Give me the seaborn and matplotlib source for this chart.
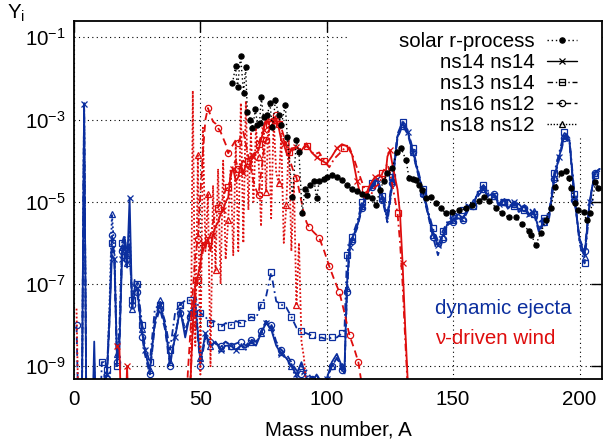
import numpy as np
import pandas as pd
import matplotlib
matplotlib.use("Agg")
import matplotlib.pyplot as plt
from matplotlib.lines import Line2D
from matplotlib.patches import Rectangle
from matplotlib.ticker import NullLocator
import seaborn as sns

sns.set_theme(style="white")
plt.rcParams["font.family"] = ["Liberation Sans", "DejaVu Sans"]
plt.rcParams["mathtext.fontset"] = "custom"
plt.rcParams["mathtext.rm"] = "Liberation Sans"
plt.rcParams["mathtext.it"] = "Liberation Sans:italic"
plt.rcParams["axes.unicode_minus"] = False

# ---------------- data (log10 Y_i) ----------------
# dynamic ejecta, common mass grid
A_dyn = list(range(1, 28)) + list(range(28, 106, 2)) + [106, 107, 108, 109, 110] + list(range(112, 210, 2))

dyn_ns14_ns14 = [
    -11, -11, -11, -2.62, -11, -11, -11, -8.4, -11, -11, -11, -9.5, -9.2, -7.9, -6.3, -6.4, -8.8, -8.4, -6.4, -6.0, -6.6, -4.9, -7.6, -7.2, -7.1, -7.7, -8.2,
    -8.6, -9.1, -7.9, -7.5, -8.0, -8.9, -8.3, -7.6, -8.3, -7.7, -7.5, -8.9, -8.2, -8.5, -8.4, -8.6, -8.5, -8.5, -8.6, -8.5,
    -8.55, -8.4, -8.5, -8.2, -7.95, -8.1, -8.5, -8.7, -8.8, -9.0, -9.2, -8.9, -9.3, -9.4, -9.2, -9.5, -9.3, -8.9, -8.7,
    -9.0, -9.1, -7.0, -6.1, -5.9,
    -5.6, -5.1, -4.8, -4.6, -4.45, -4.9, -5.4, -4.5, -3.4, -3.1, -3.3, -3.75, -4.25, -4.75, -5.25, -5.75, -6.05, -5.8, -5.5,
    -5.45, -5.3, -5.4, -5.1, -5.05, -4.75, -4.7, -4.85, -4.8, -5.05, -4.95, -5.15, -5.0, -5.2, -5.1, -5.3, -5.25, -5.7, -5.45,
    -5.35, -4.4, -3.9, -3.4, -3.5, -4.9, -5.9, -6.3, -5.0, -4.3, -4.2]
dyn_ns13_ns14 = [
    -11, -11, -11, -2.6, -11, -11, -11, -11, -11, -11, -8.9, -8.9, -9.1, -7.8, -6.0, -6.5, -9.0, -8.0, -6.0, -5.8, -6.3, -6.0, -7.4, -6.9, -7.0, -7.5, -8.0,
    -8.5, -8.9, -7.6, -7.5, -7.9, -8.6, -7.7, -7.5, -7.4, -7.4, -7.3, -7.7, -7.8, -7.95, -7.9, -8.05, -7.95, -8.0, -7.9, -7.95,
    -7.9, -7.8, -7.84, -7.5, -7.3, -6.72, -7.42, -7.5, -7.57, -7.8, -8.06, -8.15, -8.2, -8.25, -8.32, -8.3, -8.35, -8.3, -8.3,
    -8.2, -8.13, -6.3, -6.0, -5.85,
    -5.5, -5.0, -4.75, -4.55, -4.4, -4.85, -5.3, -4.4, -3.35, -3.05, -3.25, -3.7, -4.2, -4.7, -5.2, -5.65, -5.95, -5.7, -5.45,
    -5.35, -5.3, -5.2, -5.05, -5.1, -4.7, -4.6, -4.75, -4.85, -4.9, -5.0, -4.95, -5.1, -5.05, -5.2, -5.15, -5.3, -5.5, -5.4,
    -5.25, -4.3, -3.8, -3.3, -3.45, -4.8, -6.0, -6.5, -5.1, -4.35, -4.25]
dyn_ns16_ns12 = [
    -8.0, -11, -11, -2.65, -11, -11, -11, -11, -11, -11, -11, -9.2, -9.3, -8.0, -5.8, -6.3, -8.9, -8.6, -6.2, -5.9, -6.4, -6.1, -7.5, -7.1, -7.2, -7.8, -8.3,
    -8.7, -9.2, -8.0, -7.6, -8.1, -9.0, -8.2, -7.7, -8.1, -7.8, -7.6, -9.0, -8.3, -8.4, -8.45, -8.5, -8.4, -8.5, -8.45, -8.4,
    -8.5, -8.35, -8.4, -8.15, -7.9, -8.0, -8.4, -8.6, -8.7, -8.9, -9.1, -9.2, -9.1, -9.3, -9.2, -9.4, -9.35, -9.0, -8.8,
    -9.1, -9.2, -7.2, -6.2, -5.95,
    -5.65, -5.15, -4.85, -4.65, -4.5, -4.95, -5.5, -4.55, -3.45, -3.15, -3.35, -3.8, -4.3, -4.8, -5.3, -5.85, -6.3, -5.9, -5.55,
    -5.5, -5.4, -5.45, -5.2, -5.1, -4.85, -4.7, -4.9, -4.8, -5.1, -5.0, -5.2, -5.05, -5.25, -5.15, -5.35, -5.3, -5.75, -5.5,
    -5.4, -4.45, -3.95, -3.45, -3.55, -4.95, -5.9, -6.2, -5.0, -4.3, -4.2]
dyn_ns18_ns12 = [
    -11, -11, -11, -2.62, -11, -11, -11, -8.9, -11, -11, -11, -11, -9.4, -7.6, -5.3, -6.2, -8.7, -8.3, -6.1, -5.9, -6.5, -5.5, -7.6, -7.2, -7.0, -7.6, -8.1,
    -8.6, -9.1, -7.9, -7.4, -8.0, -8.9, -8.3, -7.5, -8.2, -7.7, -7.4, -8.8, -8.3, -8.5, -8.45, -8.55, -8.4, -8.5, -8.6, -8.5,
    -8.6, -8.4, -8.45, -8.2, -7.9, -8.05, -8.45, -8.65, -8.8, -9.0, -9.3, -9.0, -9.2, -9.4, -9.3, -9.5, -9.3, -9.0, -8.8,
    -9.0, -9.2, -7.1, -6.15, -5.9,
    -5.6, -5.1, -4.82, -4.6, -4.48, -4.92, -5.45, -4.5, -3.42, -3.1, -3.3, -3.78, -4.28, -4.78, -5.28, -5.8, -6.1, -5.85, -5.52,
    -5.45, -5.35, -5.4, -5.15, -5.0, -4.8, -4.65, -4.8, -4.85, -5.0, -4.98, -5.1, -5.05, -5.18, -5.12, -5.3, -5.22, -5.65, -5.5,
    -5.3, -4.4, -3.9, -3.38, -3.5, -4.9, -5.95, -6.35, -5.05, -4.3, -4.2]

# neutrino-driven wind
A_wind_ns14_ns14 = [17, 18, 19, 20, 21, 22, 44, 46, 47, 48, 49] + list(range(50, 87)) + list(range(88, 111, 2)) + \
    [112, 113, 115, 117, 119, 121, 123, 124, 125, 126, 128, 129, 130, 131, 132, 133]
wind_ns14_ns14 = [
    -8.5, -8.6, -11, -11, -9.0, -11, -11, -9.5, -8.0, -7.0, -6.8,
    -6.5, -6.0, -6.1, -5.9, -6.2, -5.8, -5.6, -5.5, -5.3, -5.2, -5.0, -4.9, -4.3, -4.2, -4.5, -4.4, -4.1, -4.3, -4.1,
    -4.2, -4.0, -3.9, -3.8, -3.75, -3.5, -3.25, -3.0, -3.1, -3.2, -3.05, -3.0, -3.2, -3.5, -3.6, -3.8, -3.9, -3.7,
    -3.68, -3.75, -3.58, -3.8, -3.92, -4.0, -4.07, -3.9, -3.7, -3.6, -3.65, -3.85,
    -4.5, -4.75, -4.9, -4.6, -4.4, -4.35, -4.5, -3.9, -3.75, -4.1, -4.7, -5.3, -6.5, -8.0, -9.3, -11]
A_wind_ns13_ns14 = [44, 46, 47, 48, 49] + list(range(50, 87)) + \
    [88, 90, 92, 93, 95, 97, 99, 101, 103, 105, 107, 109, 111, 113, 115, 117, 119, 121, 122, 124, 125, 126, 128, 129, 130, 131, 132, 133]
wind_ns13_ns14 = [
    -11, -9.4, -8.2, -7.3, -6.9,
    -6.6, -6.2, -6.0, -5.94, -5.8, -5.5, -5.3, -5.14, -5.0, -4.9, -4.7, -4.65, -4.4, -4.1, -4.0, -4.2, -4.1, -4.0, -4.07,
    -4.0, -3.9, -3.85, -3.75, -3.6, -3.4, -3.2, -2.97, -3.1, -3.0, -2.95, -2.95, -3.1, -3.3, -3.5, -3.7, -3.8, -3.75,
    -3.7, -3.72, -3.65, -3.7, -3.85, -3.8, -4.0, -4.16, -3.95, -3.83, -3.7, -3.68, -4.0, -4.36, -4.7, -4.89, -4.65, -4.55,
    -4.3, -4.07, -4.3, -4.6, -5.28, -6.0, -7.0, -8.3, -9.5, -11]
A_wind_ns16_ns12 = list(range(44, 94)) + [95, 97, 99, 101, 103, 105, 107, 109, 111, 112.5, 114, 116]
wind_ns16_ns12 = [
    -11, -9.2, -8.2, -7.2, -6.3, -5.9, -4.8, -3.8, -3.0, -2.72,
    -2.9, -3.05, -3.1, -3.21, -3.3, -3.45, -3.6, -3.82, -3.7, -3.6,
    -3.5, -3.58, -3.4, -3.3, -3.6, -3.9, -4.2, -4.5, -4.7, -4.84,
    -4.3, -3.8, -3.5, -3.3, -3.1, -3.0, -2.9, -2.95, -3.2, -3.4,
    -3.6, -3.9, -4.1, -4.3, -4.41, -4.7, -5.0, -5.3, -5.5, -5.62,
    -5.75, -5.87, -6.2, -6.57, -6.9, -7.2, -7.7, -8.25, -8.6, -8.9, -9.5, -11]
A_wind_ns18_ns12 = [1, 2] + list(range(44, 94))
wind_ns18_ns12 = [
    -7.6, -11,
    -11, -9.5, -11, -2.3, -8.5, -3.87, -9.2, -3.2, -6.2, -4.8,
    -9.0, -4.6, -6.67, -4.2, -7.0, -4.0, -6.4, -5.45, -4.2, -6.3,
    -3.6, -6.2, -2.6, -6.0, -2.55, -5.2, -3.3, -5.0, -3.2, -3.92,
    -5.6, -3.1, -4.77, -2.9, -5.4, -3.0, -4.3, -4.55, -3.4, -6.0,
    -5.09, -3.5, -6.2, -4.5, -7.52, -6.0, -8.4, -8.8, -9.6, -11]

# solar r-process abundances
solar_A = [62.7, 63.9, 64.7, 65.9, 67.1, 67.9, 68.6, 69.8, 70.6, 71.8, 72.6, 73.4, 74.1, 75.0, 76.5,
           77.5, 78.5, 79.7, 81.0, 82.0, 83.6, 84.4, 86.4, 88.0, 89.0, 90.3, 91.3, 92.3, 93.5, 95.0,
           96.0, 97.0, 99.0, 100.0, 102.0, 104.0, 106.0, 108.0, 110.0, 112.0, 114.0, 116.0, 118.0, 119.5, 121.0,
           122.5, 124.0, 125.8, 127.8, 129.4, 131.4, 132.5, 134.0, 135.3, 136.5, 137.7, 139.2, 141.2, 143.2, 145.2,
           147.1, 149.5, 152.3, 155.0, 157.4, 160.2, 162.1, 164.1, 166.9, 169.2, 172.0, 174.8, 177.1, 179.9, 181.0,
           182.6, 184.6, 186.6, 188.6, 190.5, 192.5, 194.5, 195.7, 196.8, 198.4, 199.6, 201.6, 202.8, 204.3, 206.3, 207.5]
solar_logY = [-2.12, -1.71, -2.22, -1.46, -2.36, -1.73, -2.82, -3.0, -3.21, -2.75, -3.14, -3.09, -2.46, -2.95, -2.9,
              -2.6, -3.19, -2.53, -2.9, -3.14, -2.65, -3.43, -4.89, -3.51, -3.8, -5.28, -4.7, -4.84, -4.6, -4.5,
              -4.92, -4.5, -4.45, -4.40, -4.36, -4.4, -4.48, -4.6, -4.7, -4.75, -4.8, -4.85, -4.9, -5.09, -4.72,
              -4.5, -4.3, -4.19, -3.80, -3.70, -3.99, -4.41, -4.45, -4.48, -4.6, -4.72, -4.92, -4.89, -5.04, -5.16,
              -5.28, -5.26, -5.21, -5.16, -5.09, -4.97, -4.89, -4.97, -5.14, -5.28, -5.38, -5.38, -5.53, -5.70, -5.8,
              -6.06, -5.77, -5.45, -5.14, -4.65, -4.31, -4.24, -4.41, -4.67, -5.04, -5.21, -5.26, -5.45, -5.28, -4.53, -4.67]

legend_labels = ["solar r-process", "ns14 ns14", "ns13 ns14", "ns16 ns12", "ns18 ns12"]
x_ticks = [0, 50, 100, 150, 200]
y_ticks = [1e-1, 1e-3, 1e-5, 1e-7, 1e-9]

# ---------------- style ----------------
FS = 14.8
BLUE = "#0b2e9e"
RED = "#de0d0d"
LS = {"solid": "-", "dashdot": (0, (4, 2, 1, 2)), "dashed": (0, (4, 2.5)), "dotted": (0, (1, 1.2))}
MARK_W18 = [7, 11, 14, 19, 31, 34, 39, 42, 46]
MARK_W16 = [5, 9, 13, 17, 21, 29, 32, 36, 44, 49, 51, 53, 55, 57, 59]

fig = plt.figure(figsize=(6.03, 4.47), dpi=100)
ax = fig.add_axes([74 / 603, 1 - 379 / 447, 528 / 603, 358 / 447])
ax.set_yscale("log")


def draw(A, logs, color, ls, marker, me, ms=5.0, lw=1.3, fill="none", z=2):
    y = np.power(10.0, np.asarray(logs, dtype=float))
    sns.lineplot(x=np.asarray(A, dtype=float), y=y, ax=ax, color=color, linestyle=ls, lw=lw,
                 marker=marker, markevery=me, markersize=ms, markerfacecolor=fill,
                 markeredgecolor=color, markeredgewidth=0.9, sort=False, estimator=None,
                 errorbar=None, zorder=z)


# dynamic ejecta (blue)
draw(A_dyn, dyn_ns18_ns12, BLUE, LS["dotted"], "^", 2, ms=4.5)
draw(A_dyn, dyn_ns16_ns12, BLUE, LS["dashed"], "o", 2, ms=4.5)
draw(A_dyn, dyn_ns13_ns14, BLUE, LS["dashdot"], "s", 2, ms=4.8)
draw(A_dyn, dyn_ns14_ns14, BLUE, LS["solid"], "x", 3, ms=5)
# neutrino-driven wind (red)
draw(A_wind_ns18_ns12, wind_ns18_ns12, RED, LS["dotted"], "^", MARK_W18, ms=4.5)
draw(A_wind_ns16_ns12, wind_ns16_ns12, RED, LS["dashed"], "o", MARK_W16, ms=4.5)
draw(A_wind_ns13_ns14, wind_ns13_ns14, RED, LS["dashdot"], "s", 4, ms=4.8)
draw(A_wind_ns14_ns14, wind_ns14_ns14, RED, LS["solid"], "x", 4, ms=5)
# solar
draw(solar_A, solar_logY, "black", (0, (1, 2)), "o", 1, ms=3.7, lw=1.0, fill="black", z=3)

ax.set_xlim(0, 208.9)
ax.set_ylim(10 ** -9.31, 10 ** -0.604)
ax.set_xticks(x_ticks)
ax.set_yticks(y_ticks)
ax.yaxis.set_minor_locator(NullLocator())
ax.xaxis.set_minor_locator(NullLocator())
ax.tick_params(which="major", direction="in", length=8, width=1.0, top=True, right=True,
               labelsize=FS, colors="black", pad=6)
ax.tick_params(axis="x", pad=8)
for s in ax.spines.values():
    s.set_color("black")
    s.set_linewidth(1.3)
ax.grid(True, which="major", color="black", linestyle=(0, (1, 3)), lw=0.8)
ax.set_axisbelow(True)
ax.set_xlabel("Mass number, A", fontsize=FS, color="black", labelpad=8)
ax.set_ylabel("")

# opaque key area hiding the grid
ax.add_patch(Rectangle(((347 - 74) / 528, 1 - (137 - 21) / 358), (602 - 347) / 528, (137 - 21) / 358,
                       transform=ax.transAxes, facecolor="white", edgecolor="none", zorder=1.0))

handles = [
    Line2D([], [], color="black", ls=(0, (1, 2)), lw=1.0, marker="o", ms=3.7, mfc="black", mec="black"),
    Line2D([], [], color="black", ls="-", lw=1.0, marker="x", ms=5, mec="black", mew=0.9),
    Line2D([], [], color="black", ls=(0, (4, 2, 1, 2)), lw=1.0, marker="s", ms=4.8, mfc="none", mec="black", mew=0.9),
    Line2D([], [], color="black", ls=(0, (4, 2.5)), lw=1.0, marker="o", ms=4.5, mfc="none", mec="black", mew=0.9),
    Line2D([], [], color="black", ls=(0, (1, 1.2)), lw=1.0, marker="^", ms=4.5, mfc="none", mec="black", mew=0.9),
]
leg = ax.legend(handles, legend_labels, loc="upper right", bbox_to_anchor=((577 - 74) / 528, 1 - (32 - 21) / 358),
                frameon=False, markerfirst=False, fontsize=FS, handlelength=1.45, handletextpad=0.6,
                labelspacing=0.1, borderpad=0, borderaxespad=0)
for t in leg.get_texts():
    t.set_ha("right")
    t.set_color("black")
leg.set_zorder(5)

ax.text(142.9, 10 ** -7.59, "dynamic ejecta", color=BLUE, fontsize=FS, ha="left", va="center")
ax.text(142.9, 10 ** -8.32, "\u03bd-driven wind", color=RED, fontsize=FS, ha="left", va="center")

fig.text(7 / 603, 1 - 19 / 447, r"Y$_\mathrm{i}$", fontsize=FS, ha="left", va="baseline", color="black")

fig.savefig("out.png", dpi=100)
